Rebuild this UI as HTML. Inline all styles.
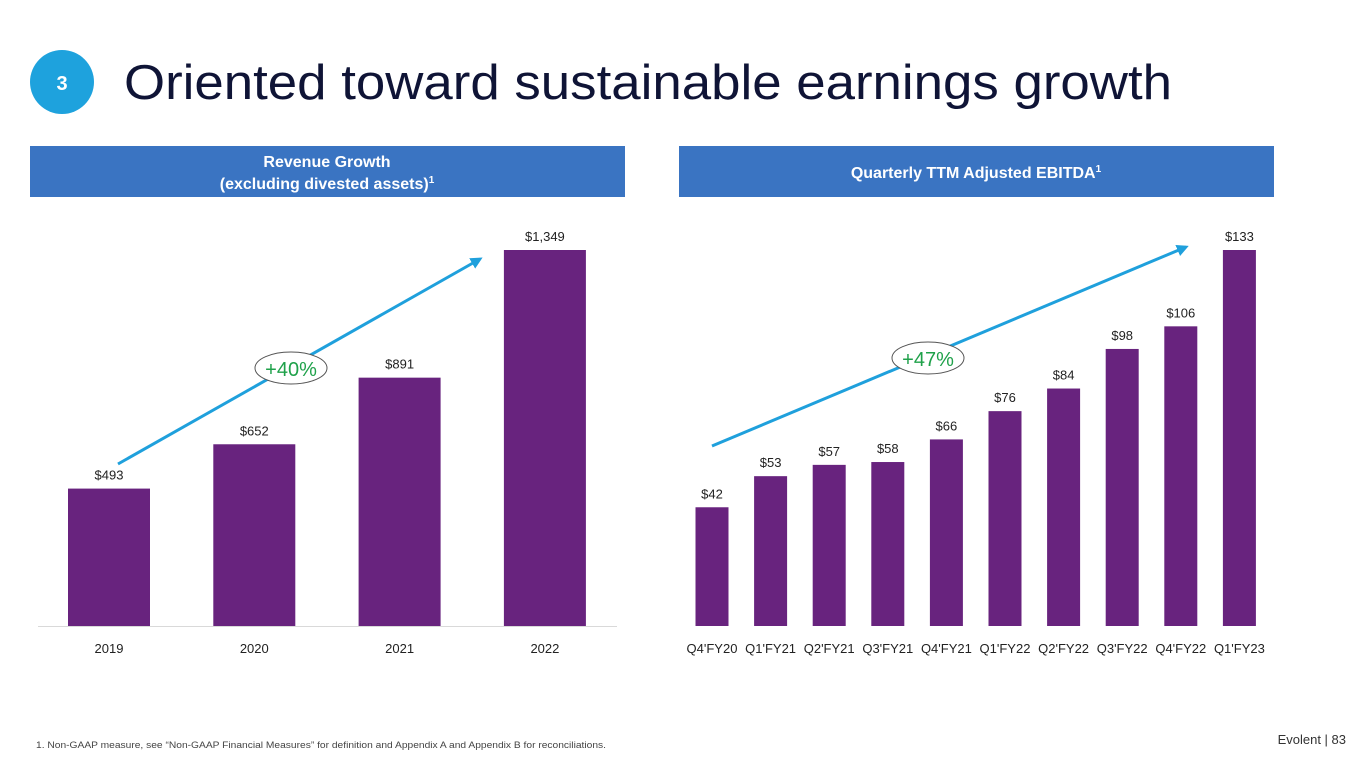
<!DOCTYPE html>
<html><head><meta charset="utf-8"><style>
body{margin:0;width:1365px;height:768px;background:#fff;overflow:hidden;font-family:"Liberation Sans",sans-serif}
svg{display:block}
</style></head><body>
<svg width="1365" height="768">
<circle cx="62" cy="82" r="32" fill="#1ea2dd"/>
<text x="62" y="90" text-anchor="middle" font-size="20" font-weight="bold" fill="#fff">3</text>
<text x="124" y="99" font-size="49" fill="#0f1436" textLength="1048" lengthAdjust="spacingAndGlyphs">Oriented toward sustainable earnings growth</text>
<rect x="30" y="146" width="595" height="51" fill="#3a74c2"/>
<text x="327" y="167" text-anchor="middle" font-size="16" font-weight="bold" fill="#fff">Revenue Growth</text>
<text x="327" y="189" text-anchor="middle" font-size="16" font-weight="bold" fill="#fff">(excluding divested assets)<tspan font-size="10" dy="-6">1</tspan></text>
<rect x="679" y="146" width="595" height="51" fill="#3a74c2"/>
<text x="976" y="178" text-anchor="middle" font-size="16" font-weight="bold" fill="#fff">Quarterly TTM Adjusted EBITDA<tspan font-size="10" dy="-6">1</tspan></text>
<line x1="38" y1="626.5" x2="617" y2="626.5" stroke="#d9d9d9"/>
<g id="left"></g><g id="right"></g>
<defs><marker id="ah" markerWidth="4" markerHeight="4" refX="3" refY="2" orient="auto"><path d="M0,0 L4,2 L0,4z" fill="#1fa0dc"/></marker></defs>
<line x1="118" y1="464" x2="480" y2="259" stroke="#1fa0dc" stroke-width="3" marker-end="url(#ah)"/>
<ellipse cx="291" cy="368" rx="36" ry="16" fill="#fff" stroke="#555"/>
<text x="291" y="376" text-anchor="middle" font-size="20" fill="#1fa14a">+40%</text>
<line x1="712" y1="446" x2="1186" y2="247" stroke="#1fa0dc" stroke-width="3" marker-end="url(#ah)"/>
<ellipse cx="928" cy="358" rx="36" ry="16" fill="#fff" stroke="#555"/>
<text x="928" y="366" text-anchor="middle" font-size="20" fill="#1fa14a">+47%</text>
<text x="36" y="748" font-size="9" fill="#444" textLength="570" lengthAdjust="spacingAndGlyphs">1.    Non-GAAP measure, see “Non-GAAP Financial Measures” for definition and Appendix A and Appendix B for reconciliations.</text>
<text x="1346" y="744" text-anchor="end" font-size="13" fill="#333">Evolent  |  83</text>
</svg>
<script>
const leftCats=["2019","2020","2021","2022"];
const leftVals=[493,652,891,1349];
const leftLabels=["$493","$652","$891","$1,349"];
const rightCats=["Q4'FY20","Q1'FY21","Q2'FY21","Q3'FY21","Q4'FY21","Q1'FY22","Q2'FY22","Q3'FY22","Q4'FY22","Q1'FY23"];
const rightVals=[42,53,57,58,66,76,84,98,106,133];
const rightLabels=["$42","$53","$57","$58","$66","$76","$84","$98","$106","$133"];
const NS="http://www.w3.org/2000/svg";
function mk(t,a,p){const e=document.createElementNS(NS,t);for(const k in a)e.setAttribute(k,a[k]);p.appendChild(e);return e;}
function draw(g,cats,vals,labels,x0,step,bw,max,pfx){
  const base=626,h=376;const y=v=>base-v/max*h;
  cats.forEach((c,i)=>{
    const cx=x0+i*step;
    const r=mk('rect',{x:cx-bw/2,y:y(vals[i]),width:bw,height:base-y(vals[i]),fill:'#68237e'},g);
    
    
    const t=mk('text',{x:cx,y:y(vals[i])-9,'text-anchor':'middle','font-size':13,fill:'#222'},g);t.textContent=labels[i];
    
    
    const l=mk('text',{x:cx,y:653,'text-anchor':'middle','font-size':13,fill:'#222'},g);l.textContent=c;
    
    
  });
}
draw(document.getElementById('left'),leftCats,leftVals,leftLabels,109,145.3,82,1349,'left');
draw(document.getElementById('right'),rightCats,rightVals,rightLabels,712,58.6,33,133,'right');
</script>
</body></html>
